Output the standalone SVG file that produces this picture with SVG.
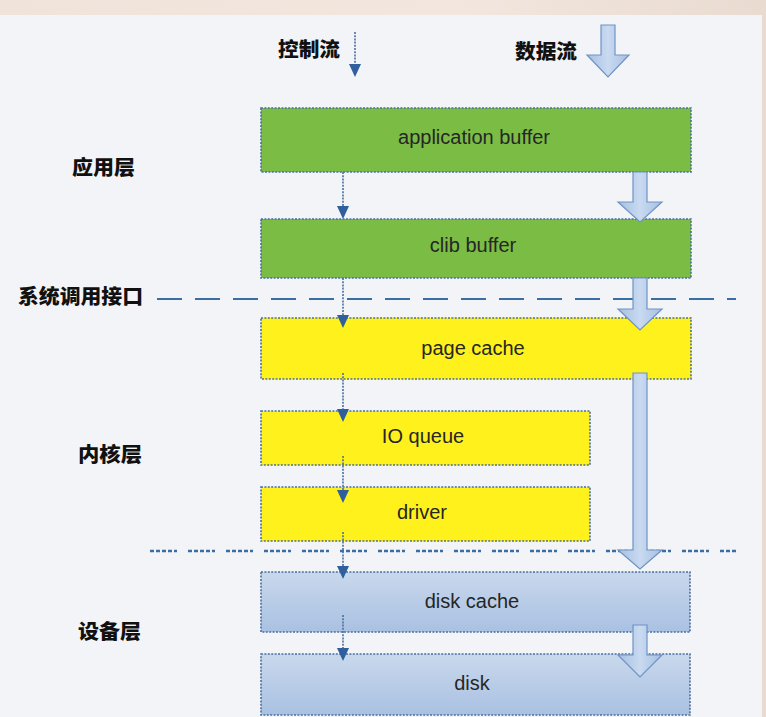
<svg xmlns="http://www.w3.org/2000/svg" width="766" height="717" viewBox="0 0 766 717">
<style>
.lbl{font-family:"Noto Sans CJK SC","Noto Sans",sans-serif;font-weight:900;font-size:20px;fill:#111}
.box{stroke:#4a6f9f;stroke-width:1.6;stroke-dasharray:2 1.4}
.green{fill:#7bbd44}
.yellow{fill:#fff21c}
.blue{fill:url(#blueGrad)}
.txt{font-family:"Liberation Sans",Arial,sans-serif;font-size:20px;fill:#262626;text-anchor:middle}
.ctl{stroke:#4a6f9f;stroke-width:1.6;stroke-dasharray:2 1.2;fill:none}
.ah{fill:#2f5f9c}
.dat{fill:url(#arrGrad);stroke:#6f93c4;stroke-width:1.2}
</style>
<defs>
<linearGradient id="blueGrad" x1="0" y1="0" x2="0" y2="1">
<stop offset="0" stop-color="#c9d8ec"/>
<stop offset="1" stop-color="#a9c1e2"/>
</linearGradient>
<linearGradient id="arrGrad" x1="0" y1="0" x2="1" y2="0">
<stop offset="0" stop-color="#a6bfe3"/>
<stop offset="0.5" stop-color="#c9daf0"/>
<stop offset="1" stop-color="#a6bfe3"/>
</linearGradient>
<linearGradient id="bgGrad" x1="0" y1="0" x2="1" y2="0">
<stop offset="0" stop-color="#efe3da"/>
<stop offset="0.6" stop-color="#f2e6de"/>
<stop offset="1" stop-color="#e9dbd0"/>
</linearGradient>
</defs>

<rect x="0" y="0" width="766" height="717" fill="url(#bgGrad)"/>
<rect x="0" y="15" width="762" height="702" fill="#f3f4f7"/>

<g id="labels">
<text class="lbl" x="278" y="57" textLength="62" lengthAdjust="spacingAndGlyphs">控制流</text>
<text class="lbl" x="515" y="59" textLength="62" lengthAdjust="spacingAndGlyphs">数据流</text>
<text class="lbl" x="72" y="175" textLength="63" lengthAdjust="spacingAndGlyphs">应用层</text>
<text class="lbl" x="18" y="304" textLength="125" lengthAdjust="spacingAndGlyphs">系统调用接口</text>
<text class="lbl" x="78" y="462" textLength="64" lengthAdjust="spacingAndGlyphs">内核层</text>
<text class="lbl" x="78" y="639" textLength="63" lengthAdjust="spacingAndGlyphs">设备层</text>
</g>

<g id="separators">
<line x1="157" y1="299" x2="736" y2="299" stroke="#3a6ea5" stroke-width="2.2" stroke-dasharray="25 13"/>
<line x1="150" y1="551" x2="736" y2="551" stroke="#3a6ea5" stroke-width="2.6" stroke-dasharray="4 2 4 2 4 2 4 2 3 11"/>
</g>

<g id="node-application-buffer">
<rect class="box green" x="261" y="108" width="430" height="64"/>
<text class="txt" x="474" y="144">application buffer</text>
</g>
<g id="node-clib-buffer">
<rect class="box green" x="261" y="219" width="430" height="59"/>
<text class="txt" x="473" y="252">clib buffer</text>
</g>
<g id="node-page-cache">
<rect class="box yellow" x="261" y="318" width="430" height="61"/>
<text class="txt" x="473" y="355">page cache</text>
</g>
<g id="node-io-queue">
<rect class="box yellow" x="261" y="411" width="329" height="54"/>
<text class="txt" x="423" y="443">IO queue</text>
</g>
<g id="node-driver">
<rect class="box yellow" x="261" y="487" width="329" height="54"/>
<text class="txt" x="422" y="519">driver</text>
</g>
<g id="node-disk-cache">
<rect class="box blue" x="261" y="572" width="429" height="60"/>
<text class="txt" x="472" y="608">disk cache</text>
</g>
<g id="node-disk">
<rect class="box blue" x="261" y="654" width="429" height="61"/>
<text class="txt" x="472" y="690">disk</text>
</g>

<g id="connectors">
<path class="ctl" d="M355,32 L355,74"/>
<path class="ah" d="M349,64 L361,64 L355,77 Z"/>
<path class="ctl" d="M343,172 L343,216"/>
<path class="ah" d="M337,206 L349,206 L343,219 Z"/>
<path class="ctl" d="M343,278 L343,325"/>
<path class="ah" d="M337,315 L349,315 L343,328 Z"/>
<path class="ctl" d="M343,373 L343,419"/>
<path class="ah" d="M337,409 L349,409 L343,422 Z"/>
<path class="ctl" d="M343,456 L343,500"/>
<path class="ah" d="M337,490 L349,490 L343,503 Z"/>
<path class="ctl" d="M343,532 L343,576"/>
<path class="ah" d="M337,566 L349,566 L343,579 Z"/>
<path class="ctl" d="M343,615 L343,658"/>
<path class="ah" d="M337,648 L349,648 L343,661 Z"/>
<path class="dat" d="M601,25 L615,25 L615,55 L629,55 L608,77 L587,55 L601,55 Z"/>
<path class="dat" d="M633,172 L647,172 L647,202 L662,202 L640,222 L618,202 L633,202 Z"/>
<path class="dat" d="M633,278 L647,278 L647,309 L662,309 L640,330 L618,309 L633,309 Z"/>
<path class="dat" d="M633,373 L647,373 L647,550 L662,550 L640,569 L618,550 L633,550 Z"/>
<path class="dat" d="M633,625 L647,625 L647,655 L662,655 L640,677 L618,655 L633,655 Z"/>
</g>
</svg>
